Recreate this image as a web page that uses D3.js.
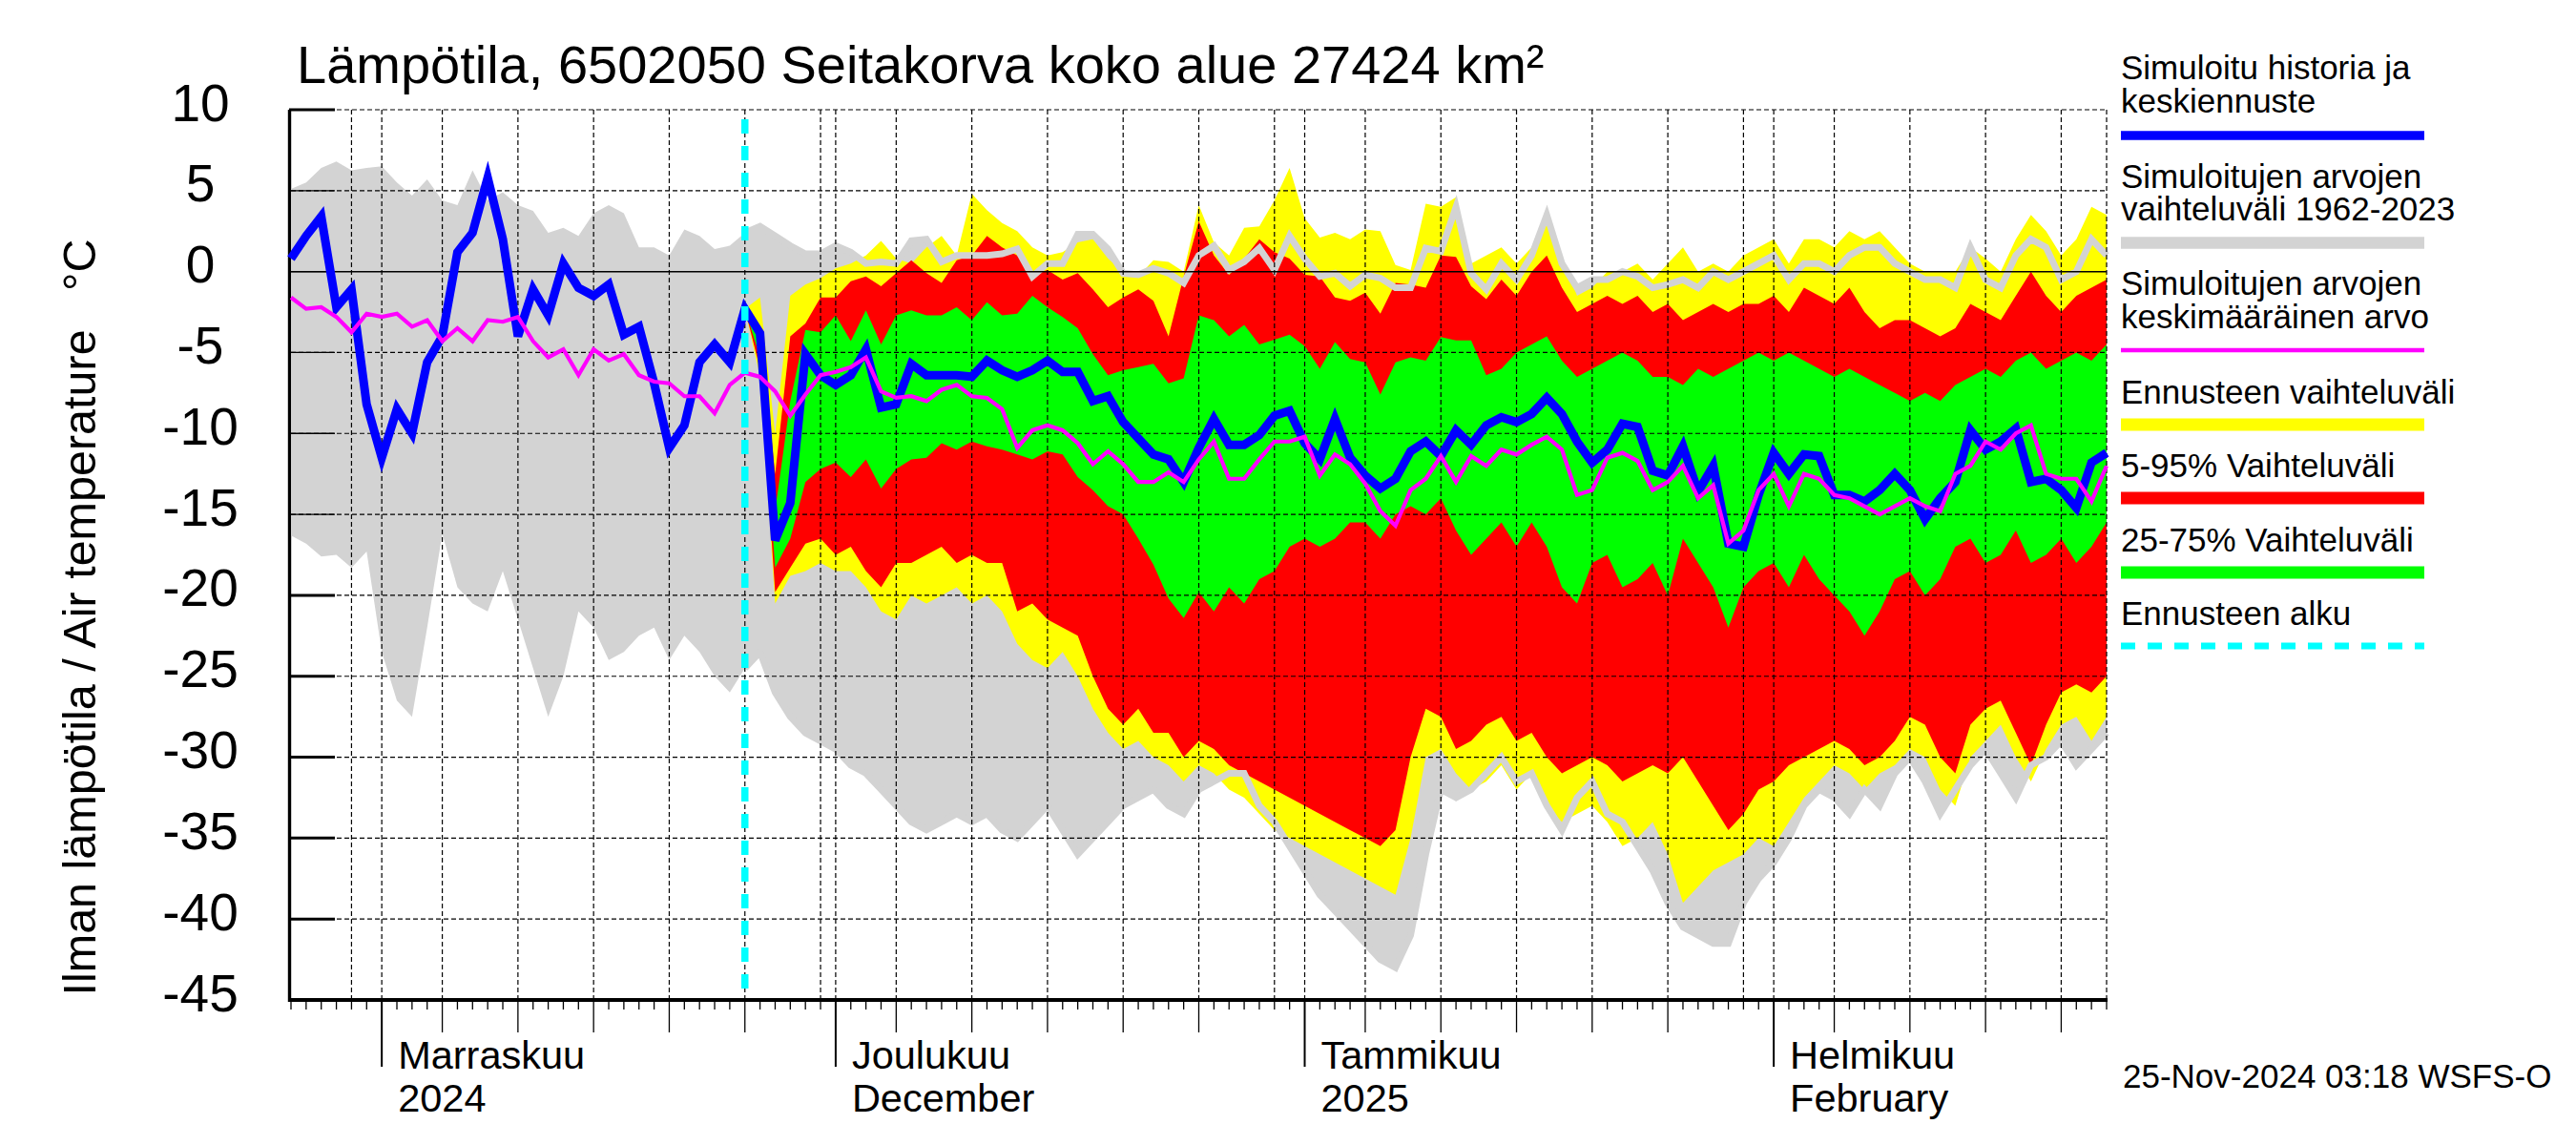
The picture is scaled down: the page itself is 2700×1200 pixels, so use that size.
<!DOCTYPE html>
<html>
<head>
<meta charset="utf-8">
<script src="https://cdn.jsdelivr.net/npm/d3@7"></script>
<style>
  body { margin: 0; background: #fff; }
  svg { display: block; }
  text { font-family: "Liberation Sans", Arial, Helvetica, sans-serif; fill: #000; }
</style>
</head>
<body>
<svg width="2700" height="1200"></svg>
<script>
// --- Data (daily values, first day 26 Oct 2024) ---
const startDay = "2024-10-26";
const forecastStartIndex = 30; // 25 Nov 2024

const simulated = [0.8, 2.2, 3.4, -2.2, -1.1, -8.2, -11.5, -8.5, -10.0, -5.6,
  -4.0, 1.2, 2.4, 5.8, 2.0, -4.0, -1.1, -2.7, 0.5, -1.0,
  -1.5, -0.8, -3.9, -3.4, -6.9, -10.9, -9.5, -5.6, -4.5, -5.6,
  -2.3, -3.8, -16.6, -14.3, -5.1, -6.4, -7.0, -6.4, -4.8, -8.4,
  -8.2, -5.7, -6.4, -6.4, -6.4, -6.5, -5.5, -6.1, -6.5, -6.1,
  -5.5, -6.2, -6.2, -8.0, -7.7, -9.3, -10.3, -11.3, -11.6, -13.0,
  -10.9, -9.1, -10.7, -10.7, -10.1, -8.9, -8.6, -10.6, -11.6, -9.1,
  -11.5, -12.6, -13.4, -12.8, -11.1, -10.5, -11.4, -9.8, -10.7, -9.5,
  -9.0, -9.3, -8.8, -7.8, -8.8, -10.5, -11.8, -11.0, -9.4, -9.6,
  -12.3, -12.6, -10.8, -13.6, -12.0, -16.8, -17.0, -13.8, -11.2, -12.5,
  -11.3, -11.4, -13.8, -13.8, -14.2, -13.5, -12.5, -13.5, -15.3, -14.0,
  -13.0, -9.8, -11.0, -10.5, -9.7, -13.0, -12.8, -13.5, -14.6, -11.8, -11.2];

const meanValues = [-1.6, -2.3, -2.2, -2.8, -3.75, -2.6, -2.8, -2.6, -3.4, -3.0,
  -4.3, -3.5, -4.3, -3.0, -3.1, -2.8, -4.3, -5.3, -4.8, -6.4,
  -4.8, -5.5, -5.1, -6.4, -6.8, -6.9, -7.7, -7.7, -8.75, -7.0,
  -6.25, -6.5, -7.4, -8.9, -7.6, -6.4, -6.2, -5.9, -5.3, -7.4,
  -7.8, -7.7, -8.0, -7.3, -7.0, -7.7, -7.8, -8.5, -10.9, -9.8,
  -9.5, -9.8, -10.6, -11.9, -11.1, -11.9, -13.0, -13.0, -12.4, -13.0,
  -11.6, -10.5, -12.8, -12.8, -11.6, -10.5, -10.5, -10.2, -12.6, -11.3,
  -11.9, -13.1, -14.8, -15.7, -13.5, -12.8, -11.4, -13.0, -11.4, -12.0,
  -11.0, -11.3, -10.7, -10.2, -11.0, -13.8, -13.5, -11.5, -11.2, -11.7,
  -13.5, -13.0, -12.0, -14.0, -13.2, -16.8, -16.0, -13.5, -12.5, -14.5,
  -12.5, -12.8, -13.8, -14.0, -14.5, -15.0, -14.5, -14.0, -14.5, -14.8,
  -12.5, -12.0, -10.5, -11.0, -10.0, -9.5, -12.5, -12.8, -12.8, -14.2, -12.0];

const histMax = [5.1, 5.5, 6.4, 6.8, 6.25, 6.4, 6.5, 5.5, 4.7, 5.7,
  4.4, 4.1, 6.25, 4.4, 4.9, 4.1, 3.75, 2.4, 2.7, 2.2,
  3.6, 4.1, 3.6, 1.5, 1.5, 1.0, 2.6, 2.2, 1.4, 1.6,
  2.4, 2.8, 2.2, 1.6, 1.1, 1.1, 1.6, 1.2, 0.5, 0.6,
  0.5, 1.9, 2.0, 0.6, 1.0, 1.0, 1.0, 1.1, 1.4, -0.3,
  0.5, 0.5, 2.3, 2.3, 1.4, -0.1, -0.2, 0.2, -0.1, -0.7,
  1.0, 1.6, 0.1, 0.6, 1.45, 0.1, 2.2, 0.8, -0.3, -0.1,
  -0.9, -0.2, -0.4, -1.0, -1.0, 1.45, 1.25, 4.0, -0.1, -1.1,
  0.5, -0.5, 1.0, 3.5, 0.5, -1.0, -0.5, -0.5, 0.0, -0.3,
  -1.0, -0.8, -0.5, -1.0, 0.0, -0.5, 0.0, 0.5, 1.0, -0.5,
  0.5, 0.5, 0.0, 1.0, 1.5, 1.5, 0.5, 0.0, -0.5, -0.5,
  -1.0, 1.5, -0.5, -1.0, 1.0, 2.0, 1.5, -0.5, 0.0, 2.0, 1.0];

const histMin = [-16.3, -16.8, -17.6, -17.5, -18.3, -17.3, -23.5, -26.5, -27.5, -22.0,
  -16.2, -19.5, -20.5, -21.0, -18.5, -21.5, -24.5, -27.5, -25.0, -21.0,
  -22.0, -24.0, -23.5, -22.5, -22.0, -24.0, -22.5, -23.5, -25.0, -26.0,
  -24.5, -23.5, -26.0, -27.5, -28.5, -29.0, -29.5, -30.5, -31.0, -32.0,
  -33.0, -34.0, -34.5, -34.0, -33.5, -34.0, -33.5, -34.5, -35.0, -34.0,
  -33.0, -34.5, -36.0, -35.0, -34.0, -33.0, -32.5, -32.0, -33.0, -33.5,
  -32.0, -31.5, -31.0, -31.0, -33.0, -34.0, -35.5, -37.0, -38.5, -39.5,
  -40.5, -41.5, -42.5, -43.0, -41.0, -36.0, -32.0, -32.5, -32.0, -31.0,
  -30.0, -31.5, -31.0, -33.0, -34.5, -32.5, -31.5, -33.5, -34.0, -35.5,
  -37.0, -39.0, -40.5, -41.0, -41.5, -41.5, -39.0, -37.5, -36.5, -35.0,
  -33.0, -32.0, -32.5, -33.5, -32.0, -33.0, -31.0, -30.0, -31.5, -33.5,
  -32.0, -30.5, -29.5, -31.0, -32.5, -30.5, -30.0, -29.0, -30.5, -29.5, -28.5];

// forecast bands, from forecastStartIndex onward
const fcMax = [-2.3, -1.6, -10.0, -1.5, -0.8, -0.4, 0.2, 0.5, 1.0, 1.9,
  0.8, 0.5, 1.5, 2.2, 1.0, 4.8, 3.8, 3.0, 2.5, 1.5,
  1.0, 1.2, 1.8, 2.0, 0.8, 0.0, -0.3, 0.7, 0.6, 0.0,
  4.1, 1.8, 1.0, 2.7, 2.8, 4.4, 6.4, 3.3, 2.1, 2.4,
  2.0, 2.6, 2.5, 0.4, 0.1, 4.2, 4.0, 4.6, 0.5, 1.0,
  1.5, 0.5, 1.5, 3.8, 1.0, -1.5, -1.0, 0.0, 0.0, 0.5,
  -0.5, 0.5, 1.5, 0.0, 0.5, 0.0, 1.0, 1.5, 2.0, 0.5,
  2.0, 2.0, 1.5, 2.5, 2.0, 2.5, 1.5, 0.5, 0.0, 0.0,
  0.0, 1.5, 0.8, 0.0, 2.0, 3.5, 2.5, 1.0, 2.0, 4.0, 3.5];
const fcMin = [-2.3, -6.5, -20.5, -18.8, -18.5, -18.0, -18.5, -18.5, -19.5, -21.0,
  -21.5, -20.0, -20.5, -20.0, -19.5, -20.5, -20.0, -21.0, -23.0, -24.0,
  -24.5, -23.5, -25.0, -27.0, -28.5, -29.5, -29.0, -30.0, -30.5, -31.5,
  -30.5, -31.0, -32.0, -32.5, -33.5, -34.5, -35.0, -35.5, -36.0, -36.5,
  -37.0, -37.5, -38.0, -38.5, -35.0, -30.0, -29.5, -31.0, -32.0, -31.5,
  -30.5, -32.0, -31.0, -33.0, -34.0, -33.5, -33.0, -34.0, -35.5, -35.0,
  -34.0, -36.0, -39.0, -38.0, -37.0, -36.5, -36.0, -35.0, -35.5, -34.0,
  -32.5, -31.5, -30.5, -31.0, -32.0, -31.0, -30.5, -29.5, -30.0, -32.0,
  -33.0, -30.0, -29.0, -28.0, -30.0, -31.5, -29.5, -28.0, -27.5, -29.0, -27.5];
const p95 = [-2.3, -3.5, -12.5, -4.0, -3.2, -1.6, -1.6, -0.6, -0.3, -0.9,
  -0.1, 0.7, -0.1, -0.7, 0.7, 1.0, 2.2, 1.5, 1.0, -0.2,
  0.1, -0.5, -0.1, -1.1, -2.2, -1.6, -1.1, -1.8, -4.0, -0.3,
  3.1, 1.0, -0.2, 0.8, 2.0, 1.2, 0.8, -0.2, -0.3, -1.6,
  -1.8, -1.3, -2.6, -0.7, -0.8, -1.0, 1.0, 0.9, -0.9, -1.7,
  -0.5, -1.5, 0.0, 1.0, -1.0, -2.5, -2.0, -1.5, -2.0, -1.5,
  -2.5, -2.0, -3.0, -2.5, -2.0, -2.5, -2.0, -2.0, -1.5, -2.5,
  -1.0, -1.5, -2.0, -1.0, -2.5, -3.5, -3.0, -3.0, -3.5, -4.0,
  -3.5, -2.0, -2.5, -3.0, -1.5, 0.0, -1.5, -2.5, -1.5, -1.0, -0.5];
const p5 = [-2.3, -6.0, -19.8, -18.3, -16.8, -16.5, -17.5, -17.0, -18.5, -19.5,
  -18.0, -18.0, -17.5, -17.0, -18.0, -17.5, -18.0, -18.0, -21.0, -20.5,
  -21.5, -22.0, -22.5, -25.0, -27.0, -28.0, -27.0, -28.5, -28.5, -30.0,
  -29.0, -29.5, -30.5, -31.0, -31.5, -32.0, -32.5, -33.0, -33.5, -34.0,
  -34.5, -35.0, -35.5, -34.5, -30.0, -27.0, -27.5, -29.5, -29.0, -28.0,
  -27.5, -29.0, -28.5, -30.0, -31.0, -30.5, -30.0, -30.5, -31.5, -31.0,
  -30.5, -31.0, -30.0, -31.5, -33.0, -34.5, -33.5, -32.0, -31.5, -30.5,
  -30.0, -29.5, -29.0, -29.5, -30.5, -30.0, -29.0, -27.5, -28.0, -30.0,
  -31.0, -28.0, -27.0, -26.5, -28.5, -30.5, -28.0, -26.0, -25.5, -26.0, -25.0];
const p75 = [-2.3, -4.3, -14.8, -8.0, -3.6, -3.75, -2.7, -4.3, -2.4, -4.5,
  -2.7, -2.4, -2.7, -2.7, -2.2, -3.0, -1.9, -2.7, -2.6, -1.5,
  -2.2, -2.8, -3.5, -5.1, -6.4, -6.1, -5.9, -5.7, -6.9, -6.6,
  -2.7, -3.0, -4.0, -3.3, -4.5, -4.2, -3.9, -4.6, -6.0, -4.35,
  -5.4, -5.6, -7.6, -5.6, -5.3, -5.5, -4.05, -4.25, -4.25, -6.4,
  -6.0, -5.0, -4.5, -4.0, -5.5, -6.5, -6.0, -5.5, -5.0, -5.5,
  -6.5, -6.5, -7.0, -6.0, -6.5, -6.0, -5.5, -5.0, -5.5, -5.0,
  -5.5, -6.0, -6.5, -6.0, -6.5, -7.0, -7.5, -8.0, -7.5, -8.0,
  -7.0, -6.5, -6.0, -6.5, -5.5, -5.0, -6.0, -5.5, -5.0, -5.5, -4.5];
const p25 = [-2.3, -5.3, -18.3, -16.5, -13.0, -12.2, -11.8, -12.7, -11.6, -13.4,
  -12.2, -11.6, -11.5, -10.6, -11.0, -10.5, -10.8, -11.0, -11.3, -11.6,
  -11.1, -11.3, -12.7, -13.5, -14.5, -15.0, -16.5, -18.1, -20.2, -21.4,
  -19.8, -21.0, -19.5, -20.5, -19.0, -18.5, -17.0, -16.5, -17.0, -16.5,
  -15.5, -15.5, -16.5, -15.0, -14.5, -15.0, -14.0, -16.0, -17.5, -16.5,
  -15.5, -17.0, -15.5, -17.0, -19.5, -20.5, -18.0, -17.5, -19.5, -19.0,
  -18.0, -20.0, -16.5, -18.0, -19.5, -22.0, -19.5, -18.5, -18.0, -19.5,
  -17.5, -19.0, -20.0, -21.0, -22.5, -21.0, -19.0, -18.5, -20.0, -19.0,
  -17.0, -16.5, -18.0, -17.5, -16.0, -18.0, -17.5, -16.5, -18.0, -17.0, -15.5];

const yTicks = [10, 5, 0, -5, -10, -15, -20, -25, -30, -35, -40, -45];
const monthLabels = [["Marraskuu", "2024"], ["Joulukuu", "December"], ["Tammikuu", "2025"], ["Helmikuu", "February"]];
const legendItems = [
  { lines: ["Simuloitu historia ja", "keskiennuste"], color: "#0000ff", w: 9.5 },
  { lines: ["Simuloitujen arvojen", "vaihteluväli 1962-2023"], color: "#d3d3d3", w: 12.5 },
  { lines: ["Simuloitujen arvojen", "keskimääräinen arvo"], color: "#ff00ff", w: 4.5 },
  { lines: ["Ennusteen vaihteluväli"], color: "#ffff00", w: 13 },
  { lines: ["5-95% Vaihteluväli"], color: "#ff0000", w: 13 },
  { lines: ["25-75% Vaihteluväli"], color: "#00ff00", w: 13 },
  { lines: ["Ennusteen alku"], color: "#00ffff", w: 7, dash: "15,13" }
];

// --- Setup ---
const svg = d3.select("svg");
const t0 = d3.utcParse("%Y-%m-%d")(startDay);
const dateAt = i => d3.utcDay.offset(t0, i);
const tEnd = dateAt(simulated.length - 1);

const plotL = 305, plotR = 2208, plotT = 115, plotB = 1048;
const x = d3.scaleUtc().domain([t0, tEnd]).range([plotL, plotR]);
const y = d3.scaleLinear().domain([-45, 10]).range([plotB, plotT]);

const days = simulated.map((v, i) => ({
  date: dateAt(i), sim: v, mean: meanValues[i], hmax: histMax[i], hmin: histMin[i]
}));
const fc = fcMax.map((v, k) => ({
  date: dateAt(forecastStartIndex + k), ymax: v, ymin: fcMin[k],
  rmax: p95[k], rmin: p5[k], gmax: p75[k], gmin: p25[k],
  hmax: histMax[forecastStartIndex + k], hmin: histMin[forecastStartIndex + k]
}));

// --- Thick axis + ticks (under the fills) ---
const axisG = svg.append("g");
axisG.append("line").attr("x1", plotL - 1.5).attr("x2", plotL - 1.5)
  .attr("y1", plotT).attr("y2", plotB + 2).attr("stroke", "#000").attr("stroke-width", 3.4);
axisG.selectAll("line.ytick").data(yTicks).join("line").attr("class", "ytick")
  .attr("x1", plotL - 2).attr("x2", plotL + 46).attr("y1", d => y(d)).attr("y2", d => y(d))
  .attr("stroke", "#000").attr("stroke-width", 3);

// --- Bands ---
const band = (lo, hi) => d3.area().x(d => x(d.date)).y0(d => y(d[lo])).y1(d => y(d[hi]));
svg.append("path").datum(days).attr("d", band("hmin", "hmax")).attr("fill", "#d3d3d3");
svg.append("path").datum(fc).attr("d", band("ymin", "ymax")).attr("fill", "#ffff00");
svg.append("path").datum(fc).attr("d", band("rmin", "rmax")).attr("fill", "#ff0000");
svg.append("path").datum(fc).attr("d", band("gmin", "gmax")).attr("fill", "#00ff00");

// historical range edges drawn over the forecast bands
["hmax", "hmin"].forEach(k => {
  svg.append("path").datum(fc)
    .attr("d", d3.line().x(d => x(d.date)).y(d => y(d[k])))
    .attr("fill", "none").attr("stroke", "#d3d3d3").attr("stroke-width", 7);
});

// --- Grid ---
const grid = svg.append("g").attr("stroke", "#000").attr("stroke-width", 1.2).attr("stroke-dasharray", "5,3");
grid.selectAll("line.h").data(yTicks.filter(v => v !== 0 && v !== -45)).join("line")
  .attr("x1", plotL).attr("x2", plotR).attr("y1", d => y(d)).attr("y2", d => y(d));
const allDays = d3.utcDay.range(t0, d3.utcDay.offset(tEnd, 1));
const gridDays = allDays.filter(d => [1, 5, 10, 15, 20, 25, 30].includes(d.getUTCDate()));
grid.selectAll("line.v").data(gridDays).join("line")
  .attr("x1", d => x(d)).attr("x2", d => x(d)).attr("y1", plotT).attr("y2", plotB);
grid.append("line").attr("x1", plotR).attr("x2", plotR).attr("y1", plotT).attr("y2", plotB);

// thin tick marks and zero line on top
svg.selectAll("line.ythin").data(yTicks).join("line").attr("class", "ythin")
  .attr("x1", plotL).attr("x2", plotL + 46).attr("y1", d => y(d)).attr("y2", d => y(d))
  .attr("stroke", "#000").attr("stroke-width", 1.3);
svg.append("line").attr("x1", plotL).attr("x2", plotR).attr("y1", y(0)).attr("y2", y(0))
  .attr("stroke", "#000").attr("stroke-width", 1.5);

// --- Lines ---
svg.append("path").datum(days)
  .attr("d", d3.line().x(d => x(d.date)).y(d => y(d.sim)))
  .attr("fill", "none").attr("stroke", "#0000ff").attr("stroke-width", 9);
svg.append("path").datum(days)
  .attr("d", d3.line().x(d => x(d.date)).y(d => y(d.mean)))
  .attr("fill", "none").attr("stroke", "#ff00ff").attr("stroke-width", 4.2);

// forecast start
const fStart = dateAt(forecastStartIndex);
svg.append("line").attr("x1", x(fStart)).attr("x2", x(fStart)).attr("y1", plotT).attr("y2", plotB)
  .attr("stroke", "#00ffff").attr("stroke-width", 7.5)
  .attr("stroke-dasharray", "15,13").attr("stroke-dashoffset", 18);

// --- X axis ---
svg.append("line").attr("x1", plotL - 3).attr("x2", plotR + 1).attr("y1", plotB).attr("y2", plotB)
  .attr("stroke", "#000").attr("stroke-width", 4);
svg.append("g").selectAll("line").data(allDays).join("line")
  .attr("x1", d => x(d)).attr("x2", d => x(d))
  .attr("y1", plotB)
  .attr("y2", d => {
    const dd = d.getUTCDate();
    if (dd === 1) return plotB + 70;
    if ([5, 10, 15, 20, 25].includes(dd)) return plotB + 34;
    return plotB + 10;
  })
  .attr("stroke", "#000").attr("stroke-width", d => d.getUTCDate() === 1 ? 2 : 1.3);

const months = d3.utcMonth.range(t0, tEnd);
const mLab = svg.append("g").selectAll("text").data(months).join("text")
  .attr("x", d => x(d) + 17).attr("font-size", 41.5);
mLab.append("tspan").attr("y", 1120).text((d, i) => monthLabels[i][0]);
mLab.append("tspan").attr("x", d => x(d) + 17).attr("y", 1165).text((d, i) => monthLabels[i][1]);

// --- Y axis labels ---
svg.append("g").selectAll("text").data(yTicks).join("text")
  .attr("x", 210).attr("y", d => y(d) + 11.5).attr("text-anchor", "middle")
  .attr("font-size", 55).text(d => d);

svg.append("text").attr("transform", "translate(100,647) rotate(-90)")
  .attr("text-anchor", "middle").attr("font-size", 48.5)
  .text("Ilman lämpötila / Air temperature\u00a0\u00a0\u00a0°C");

// --- Title & footer ---
svg.append("text").attr("x", 311).attr("y", 87).attr("font-size", 56)
  .text("Lämpötila, 6502050 Seitakorva koko alue 27424 km²");
svg.append("text").attr("x", 2225).attr("y", 1140).attr("font-size", 35)
  .text("25-Nov-2024 03:18 WSFS-O");

// --- Legend ---
const legendRows = [[83, 118, 142], [197, 231, 254.5], [309, 344, 367], [423, 445], [500, 522], [578, 600], [655, 677]];
const lg = svg.append("g").selectAll("g").data(legendItems).join("g");
lg.each(function (d, i) {
  const g = d3.select(this);
  const row = legendRows[i];
  d.lines.forEach((t, j) => g.append("text").attr("x", 2223).attr("y", row[j]).attr("font-size", 35).text(t));
  const ly = row[row.length - 1];
  g.append("line").attr("x1", 2223).attr("x2", 2541).attr("y1", ly).attr("y2", ly)
    .attr("stroke", d.color).attr("stroke-width", d.w)
    .attr("stroke-dasharray", d.dash || null);
});
</script>
</body>
</html>
